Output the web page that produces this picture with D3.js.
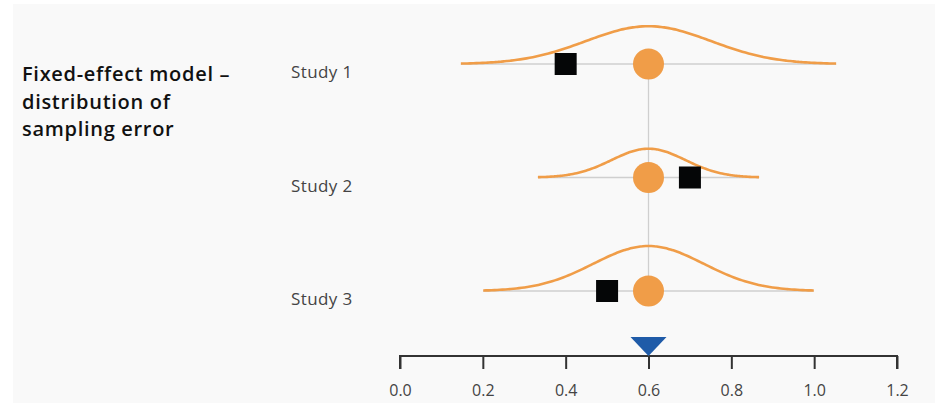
<!DOCTYPE html>
<html>
<head>
<meta charset="UTF-8">
<style>
  body { margin: 0; background: #ffffff; }
  svg { display: block; }
  .title { font-family: "Open Sans", sans-serif; font-weight: 600; font-size: 20px; letter-spacing: 0.7px; fill: #111; }
  .study { font-family: "Open Sans", sans-serif; font-size: 17px; letter-spacing: 0.4px; fill: #444; }
  .tick text { font-family: "Open Sans", sans-serif; font-size: 16px; fill: #444; }
</style>
</head>
<body>
<svg></svg>
<script src="https://d3js.org/d3.v7.min.js"></script>
<script>
// data
const studies = ["Study 1", "Study 2", "Study 3"];
const observed = [0.4, 0.7, 0.5];        // black squares
const trueEffect = 0.6;                  // common effect (orange dots, blue marker)
const samplingSd = [0.151, 0.089, 0.133]; // spread of each sampling distribution
const peakHeight = [0.84, 0.64, 1.0];    // relative height of each curve
const ticks = [0, 0.2, 0.4, 0.6, 0.8, 1.0, 1.2];
const titleLines = ["Fixed-effect model –", "distribution of", "sampling error"];

const width = 935, height = 403;
const orange = "#f09d48", grid = "#cfcfcf";

const svg = d3.select("svg").attr("width", width).attr("height", height);

svg.append("rect")
  .attr("x", 13).attr("y", 4)
  .attr("width", width - 13).attr("height", height - 4)
  .attr("fill", "#f9f9f9");

const x = d3.scaleLinear().domain([0, 1.2]).range([400, 897]);
const y = d3.scalePoint().domain(studies).range([64, 291]);
const h = d3.scaleLinear().domain([0, 1]).range([0, 45]);

// title
svg.append("text").attr("class", "title")
  .selectAll("tspan").data(titleLines).join("tspan")
  .attr("x", 22).attr("y", (d, i) => 81 + i * 27.5)
  .text(d => d);

// axis
const axis = svg.append("g")
  .attr("transform", "translate(0,356)")
  .call(d3.axisBottom(x).tickValues(ticks).tickFormat(d3.format(".1f")).tickSize(13).tickPadding(16));
axis.select(".domain").attr("stroke", "#333").attr("stroke-width", 2)
  .attr("d", `M${x(0)},13V0H${x(1.2)}V13`);
axis.selectAll(".tick line").attr("stroke", "#333").attr("stroke-width", 2);

const rows = studies.map((s, i) => ({ name: s, obs: observed[i], sd: samplingSd[i], peak: peakHeight[i] }));

// horizontal guide lines
svg.append("g").selectAll("line").data(rows).join("line")
  .attr("x1", d => x(trueEffect - 3 * d.sd)).attr("x2", d => x(trueEffect + 3 * d.sd))
  .attr("y1", d => y(d.name)).attr("y2", d => y(d.name))
  .attr("stroke", grid).attr("stroke-width", 1.3);

// vertical line at the common effect
svg.append("line")
  .attr("x1", x(trueEffect)).attr("x2", x(trueEffect))
  .attr("y1", y(studies[0])).attr("y2", y(studies[studies.length - 1]))
  .attr("stroke", grid).attr("stroke-width", 1.3);

// sampling distributions
const curve = d => {
  const pts = d3.range(-3, 3.001, 0.05).map(z => [
    x(trueEffect + z * d.sd),
    y(d.name) - h(d.peak) * Math.exp(-z * z / 2)
  ]);
  return d3.line().curve(d3.curveBasis)(pts);
};
svg.append("g").selectAll("path").data(rows).join("path")
  .attr("d", curve)
  .attr("fill", "none").attr("stroke", orange).attr("stroke-width", 2.6);

// orange dots
svg.append("g").selectAll("circle").data(rows).join("circle")
  .attr("cx", x(trueEffect)).attr("cy", d => y(d.name)).attr("r", 15.5)
  .attr("fill", orange);

// black squares
svg.append("g").selectAll("rect").data(rows).join("rect")
  .attr("x", d => x(d.obs) - 11).attr("y", d => y(d.name) - 11)
  .attr("width", 22).attr("height", 22)
  .attr("fill", "#050607");

// study labels
svg.append("g").selectAll("text").data(rows).join("text")
  .attr("class", "study")
  .attr("x", 291).attr("y", d => y(d.name) + 14)
  .text(d => d.name);

// blue marker at the common effect
const tx = x(trueEffect);
svg.append("path")
  .attr("d", `M${tx - 18},337L${tx + 18},337L${tx},356Z`)
  .attr("fill", "#1f5ba8");
</script>
</body>
</html>
